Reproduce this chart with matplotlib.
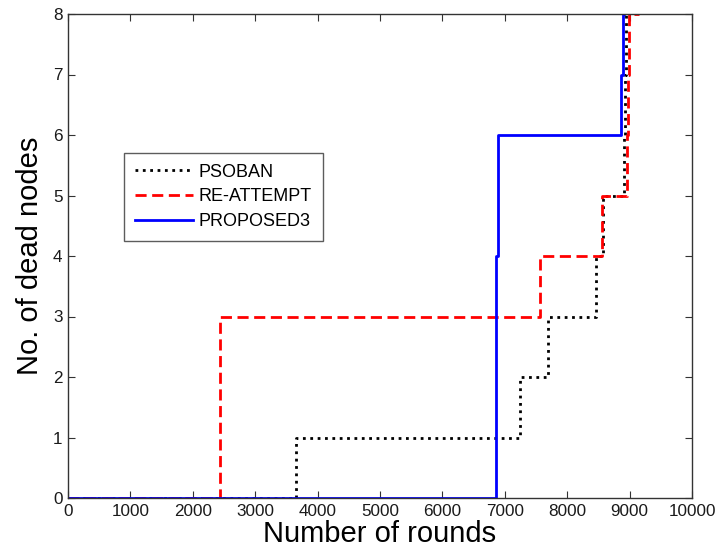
import matplotlib
matplotlib.use("Agg")
import matplotlib.pyplot as plt

plt.rcParams['font.family'] = ['Liberation Sans', 'DejaVu Sans']

# Data (step functions: value holds from x[i] until x[i+1])
psoban_x = [0, 3650, 7245, 7690, 8465, 8580, 8915, 8930, 8945, 8960]
psoban_y = [0, 1, 2, 3, 4, 5, 6, 7, 8, 8]

reattempt_x = [0, 2440, 7565, 8555, 8955, 8970, 8985, 9150]
reattempt_y = [0, 3, 4, 5, 6, 7, 8, 8]

proposed_x = [0, 6855, 6885, 8865, 8900, 8910]
proposed_y = [0, 4, 6, 7, 8, 8]

xticks = [0, 1000, 2000, 3000, 4000, 5000, 6000, 7000, 8000, 9000, 10000]
yticks = [0, 1, 2, 3, 4, 5, 6, 7, 8]

fig = plt.figure(figsize=(7.19, 5.58), dpi=100)
ax = fig.add_axes([68/719, 60/558, 624/719, 484/558])

ax.plot(psoban_x, psoban_y, drawstyle='steps-post', color='black', linestyle=':', linewidth=2, label='PSOBAN')
ax.plot(reattempt_x, reattempt_y, drawstyle='steps-post', color='red', linestyle='--', linewidth=2, label='RE-ATTEMPT', dashes=(4, 2))
ax.plot(proposed_x, proposed_y, drawstyle='steps-post', color='blue', linestyle='-', linewidth=2, label='PROPOSED3')

ax.set_xlim(0, 10000)
ax.set_ylim(0, 8)
ax.set_xticks(xticks)
ax.set_yticks(yticks)
ax.tick_params(direction='in', top=True, right=True, labelsize=12.3, length=5, width=0.8,
               colors='#333333', labelcolor='#1a1a1a', pad=4)
for s in ax.spines.values():
    s.set_color('#333333')
    s.set_linewidth(1.0)

ax.set_xlabel('Number of rounds', fontsize=21, labelpad=1)
ax.set_ylabel('No. of dead nodes', fontsize=21, labelpad=6)

leg = ax.legend(loc='upper left', bbox_to_anchor=(0.0897, 0.713), fontsize=13, frameon=True,
                fancybox=False, edgecolor='#333333', handlelength=3.2, handletextpad=0.35,
                borderpad=0.6, labelspacing=0.42, borderaxespad=0)
leg.get_frame().set_linewidth(1.0)

fig.savefig('out.png', dpi=100)
